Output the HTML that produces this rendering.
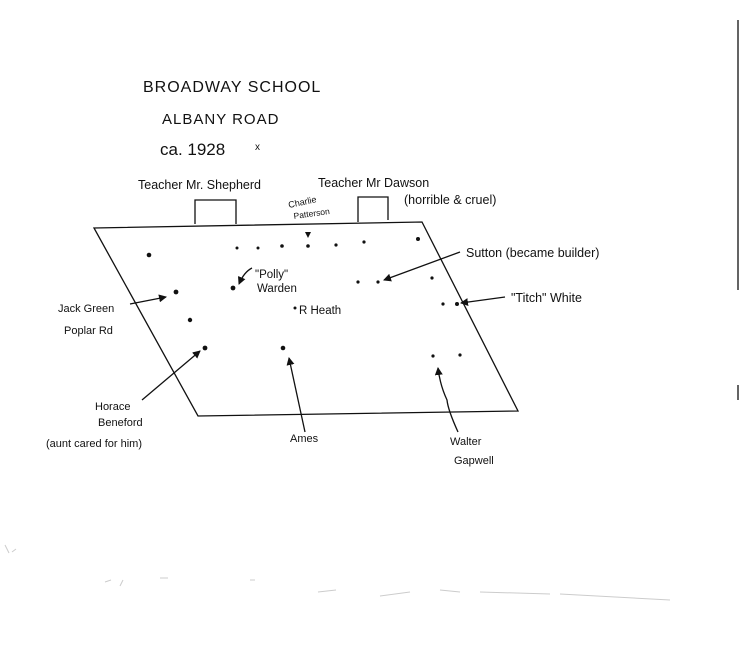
<!DOCTYPE html>
<html><head><meta charset="utf-8"><style>
html,body{margin:0;padding:0;background:#fff;}
svg{display:block;}
text{font-family:"Liberation Sans",sans-serif;fill:#111;}
</style></head><body>
<svg width="740" height="665" viewBox="0 0 740 665" xmlns="http://www.w3.org/2000/svg">
<defs>
<marker id="a" markerWidth="8" markerHeight="8" refX="7" refY="4" orient="auto" markerUnits="userSpaceOnUse">
<path d="M0,0 L8,4 L0,8 z" fill="#111"/></marker>
</defs>
<g stroke="#111" stroke-width="1.3" fill="none">
<line x1="738" y1="20" x2="738" y2="290"/>
<line x1="738" y1="385" x2="738" y2="400"/>
<path d="M94,228 L422,222 L518,411 L198,416 Z"/>
<path d="M195,224 V200 H236 V224"/>
<path d="M358,222 V197 H388 V220"/>
<line x1="130" y1="304" x2="166" y2="297" marker-end="url(#a)"/>
<path d="M252,268 Q244,272 239,284" marker-end="url(#a)"/>
<line x1="460" y1="252" x2="384" y2="280" marker-end="url(#a)"/>
<line x1="505" y1="297" x2="461" y2="303" marker-end="url(#a)"/>
<line x1="142" y1="400" x2="200" y2="351" marker-end="url(#a)"/>
<line x1="305" y1="432" x2="289" y2="358" marker-end="url(#a)"/>
<path d="M458,432 Q448,410 447,400 Q440,385 438,368" marker-end="url(#a)"/>
</g>
<g fill="#111">
<circle cx="149" cy="255" r="2.3"/><circle cx="237" cy="248" r="1.5"/><circle cx="258" cy="248" r="1.5"/>
<circle cx="282" cy="246" r="1.8"/><circle cx="308" cy="246" r="1.8"/><circle cx="336" cy="245" r="1.6"/>
<circle cx="364" cy="242" r="1.6"/><circle cx="418" cy="239" r="2"/><path d="M305,232 L311,232 L308,238 z"/>
<circle cx="233" cy="288" r="2.4"/><circle cx="176" cy="292" r="2.4"/><circle cx="190" cy="320" r="2.2"/>
<circle cx="205" cy="348" r="2.4"/><circle cx="283" cy="348" r="2.3"/><circle cx="358" cy="282" r="1.6"/>
<circle cx="378" cy="282" r="1.6"/><circle cx="432" cy="278" r="1.6"/><circle cx="443" cy="304" r="1.6"/>
<circle cx="457" cy="304" r="2"/><circle cx="433" cy="356" r="1.6"/><circle cx="460" cy="355" r="1.6"/>
<circle cx="295" cy="308" r="1.5"/>
</g>
<text x="143" y="92" font-size="16" letter-spacing="1">BROADWAY SCHOOL</text>
<text x="162" y="124" font-size="15" letter-spacing="1">ALBANY ROAD</text>
<text x="160" y="155" font-size="17">ca. 1928</text>
<text x="255" y="150" font-size="10">x</text>
<text x="138" y="189" font-size="12.5">Teacher Mr. Shepherd</text>
<text x="318" y="187" font-size="12.5">Teacher Mr Dawson</text>
<text x="404" y="204" font-size="12.5">(horrible &amp; cruel)</text>
<text x="289" y="208" font-size="9" transform="rotate(-12 289 208)">Charlie</text>
<text x="294" y="219" font-size="8.5" transform="rotate(-8 294 219)">Patterson</text>
<text x="466" y="257" font-size="12.5">Sutton  (became builder)</text>
<text x="255" y="278" font-size="11.5">"Polly"</text>
<text x="257" y="292" font-size="11.5">Warden</text>
<text x="299" y="314" font-size="11.5">R Heath</text>
<text x="58" y="312" font-size="11">Jack Green</text>
<text x="64" y="334" font-size="11">Poplar Rd</text>
<text x="511" y="302" font-size="12.5">"Titch" White</text>
<text x="95" y="410" font-size="11">Horace</text>
<text x="98" y="426" font-size="11">Beneford</text>
<text x="46" y="447" font-size="11">(aunt cared for him)</text>
<text x="290" y="442" font-size="11">Ames</text>
<text x="450" y="445" font-size="11">Walter</text>
<text x="454" y="464" font-size="11">Gapwell</text>
<g stroke="#ccc" stroke-width="1" fill="none">
<path d="M105,582 l6,-2 M120,586 l3,-6 M160,578 l8,0 M250,580 l5,0"/>
<path d="M318,592 l18,-2 M380,596 l30,-4 M440,590 l20,2 M480,592 l70,2 M560,594 l110,6"/>
<path d="M5,545 l4,8 M12,552 l4,-3"/>
</g>
</svg>
</body></html>
